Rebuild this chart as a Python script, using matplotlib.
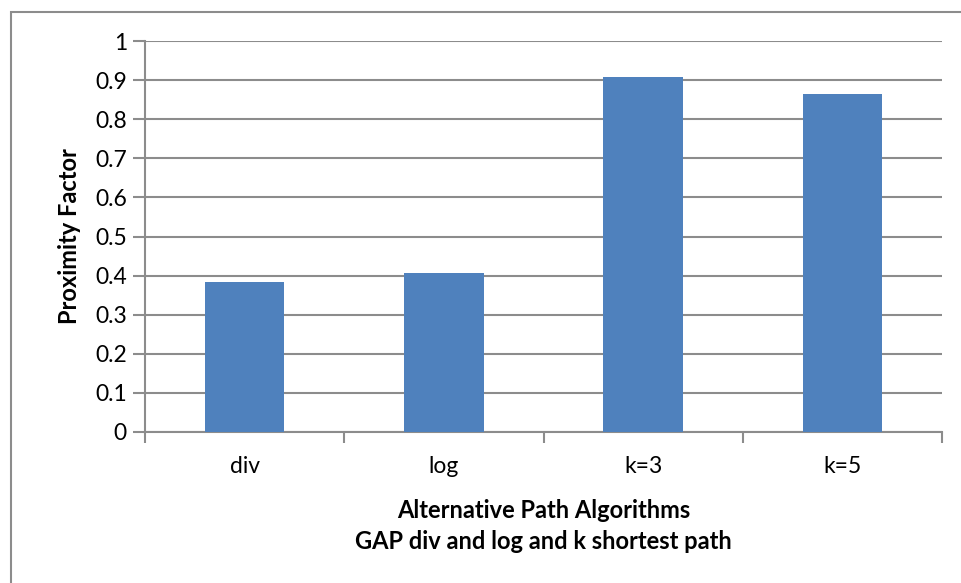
import numpy as np
import matplotlib.pyplot as plt
from matplotlib.patches import Rectangle

# data
categories = ["div", "log", "k=3", "k=5"]
proximity = [0.384, 0.406, 0.909, 0.865]
y_ticks = [0, 0.1, 0.2, 0.3, 0.4, 0.5, 0.6, 0.7, 0.8, 0.9, 1]
y_tick_labels = ["0", "0.1", "0.2", "0.3", "0.4", "0.5", "0.6", "0.7", "0.8", "0.9", "1"]

plt.rcParams["font.family"] = ["Lato", "DejaVu Sans"]

W, H = 961, 583
fig = plt.figure(figsize=(W / 100, H / 100), dpi=100)

# outer chart border (only top and left visible in the reference)
fig.patches.append(Rectangle((11 / W, -0.1), 1.2, 1.1 - 12 / H, transform=fig.transFigure,
                             fill=False, edgecolor="#8c8c8c", linewidth=1.5))

ax = fig.add_axes([145 / W, 1 - 432 / H, (942 - 145) / W, (432 - 41) / H])

x = np.arange(len(categories))
ax.bar(x, proximity, width=0.4, color="#4F81BD", zorder=3)

ax.set_xlim(-0.5, len(categories) - 0.5)
ax.set_ylim(0, 1)
ax.set_yticks(y_ticks)
ax.set_yticklabels(y_tick_labels, fontsize=16.5)
ax.yaxis.grid(True, color="#8c8c8c", linewidth=1.5, zorder=0)

ax.set_xticks(x)
ax.set_xticklabels(categories, fontsize=16.5)
ax.tick_params(axis="x", length=0, pad=17)
ax.set_xticks(np.arange(len(categories) + 1) - 0.5, minor=True)
ax.tick_params(axis="x", which="minor", length=8, width=1.5, color="#8c8c8c")
ax.tick_params(axis="y", length=9, width=1.5, color="#8c8c8c", pad=4)

for side in ["top", "right"]:
    ax.spines[side].set_visible(False)
for side in ["left", "bottom"]:
    ax.spines[side].set_color("#8c8c8c")
    ax.spines[side].set_linewidth(1.5)

ax.set_ylabel("Proximity Factor", fontsize=17, fontweight="bold", labelpad=10)
ax.set_xlabel("Alternative Path Algorithms\nGAP div and log and k shortest path",
              fontsize=17, fontweight="bold", labelpad=16, linespacing=1.45)

fig.savefig("out.png", dpi=100)
